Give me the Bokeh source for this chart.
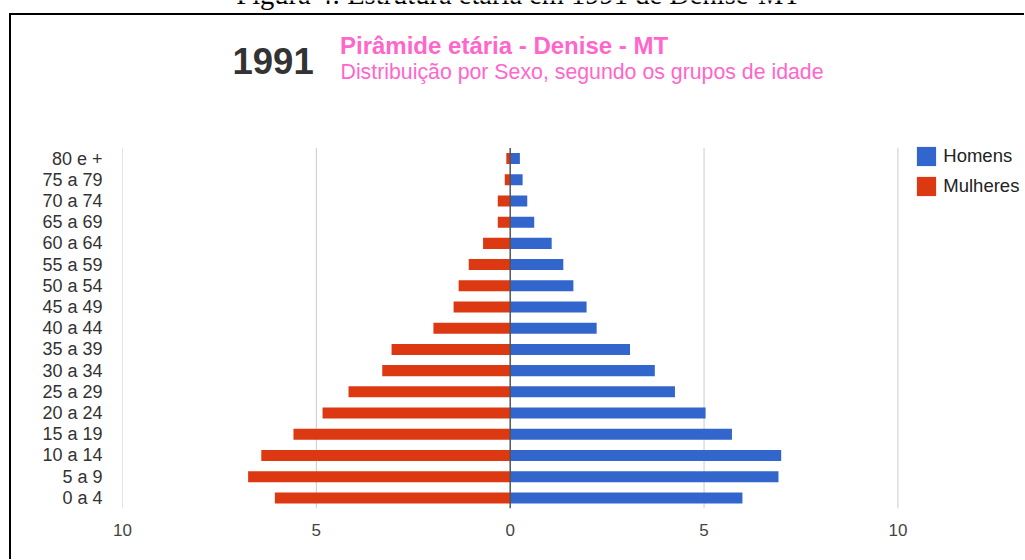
from bokeh.plotting import figure
from bokeh.models import Range1d, FixedTicker, Label, Legend, LegendItem
from bokeh.embed import file_html
from bokeh.resources import INLINE

# ---- data (% of population) ----
age_groups = ["0 a 4", "5 a 9", "10 a 14", "15 a 19", "20 a 24", "25 a 29",
              "30 a 34", "35 a 39", "40 a 44", "45 a 49", "50 a 54", "55 a 59",
              "60 a 64", "65 a 69", "70 a 74", "75 a 79", "80 e +"]
homens = [5.99, 6.92, 6.99, 5.72, 5.04, 4.25, 3.73, 3.09, 2.23, 1.97, 1.63,
          1.37, 1.07, 0.62, 0.44, 0.32, 0.25]
mulheres = [6.07, 6.76, 6.42, 5.59, 4.84, 4.17, 3.30, 3.06, 1.98, 1.46, 1.33,
            1.07, 0.70, 0.32, 0.32, 0.14, 0.10]
x_ticks = [-10, -5, 0, 5, 10]
x_tick_labels = ["10", "5", "0", "5", "10"]
series_names = ["Homens", "Mulheres"]
ano = "1991"
titulo = "Pirâmide etária - Denise - MT"
subtitulo = "Distribuição por Sexo, segundo os grupos de idade"
legenda_figura = "Figura 4: Estrutura etária em 1991 de Denise-MT"

FONT = "Liberation Sans"
SERIF = "Liberation Serif"
BLUE = "#3366CC"
RED = "#DC3912"
PINK = "#FF66CC"

# canvas geometry (canvas = page)
W, H = 1024, 559
FL = 122            # frame left (x = -10)
FB = 508            # frame bottom (bottom of the bar area)
PX_X = 38.77        # px per % on x
PX_Y = 21.21        # px per age band

y_idx = list(range(len(age_groups)))
n = len(age_groups)
x0 = x_ticks[0]
x_end = x0 + (W - FL) / PX_X
y_end = -0.5 + FB / PX_Y

p = figure(width=W, height=H, title=None,
           x_range=Range1d(x0, x_end), y_range=Range1d(-0.5, y_end),
           output_backend="svg", toolbar_location=None,
           min_border_left=FL, min_border_right=0,
           min_border_top=0, min_border_bottom=H - FB)
p.outline_line_color = None
p.background_fill_alpha = 0
p.border_fill_alpha = 0
# document frame lines (top and left), drawn behind the transparent canvas
p.styles = {
    "background-color": "white",
    "background-image": "linear-gradient(#000000, #000000), linear-gradient(#000000, #000000)",
    "background-size": "calc(100% - 9px) 2px, 2px 100%",
    "background-position": "9px 13px, 9px 13px",
    "background-repeat": "no-repeat",
}

# vertical grid lines, limited to the band area
grid_x = [t for t in x_ticks if t != 0]
p.segment(x0=grid_x, y0=-0.5, x1=grid_x, y1=n - 0.5,
          line_color="#cccccc", line_width=1)

r_m = p.hbar(y=y_idx, left=[-v for v in mulheres], right=0, height=0.52,
             fill_color=RED, line_color=None)
r_h = p.hbar(y=y_idx, left=0, right=homens, height=0.52,
             fill_color=BLUE, line_color=None)

# baseline at zero
p.segment(x0=[0], y0=-0.5, x1=[0], y1=n - 0.5,
          line_color="#555555", line_width=1.5)

# axes
p.xaxis.ticker = FixedTicker(ticks=x_ticks)
p.xaxis.major_label_overrides = dict(zip(x_ticks, x_tick_labels))
p.yaxis.ticker = FixedTicker(ticks=y_idx)
p.yaxis.major_label_overrides = dict(zip(y_idx, age_groups))
for ax in (p.xaxis[0], p.yaxis[0]):
    ax.axis_line_color = None
    ax.major_tick_line_color = None
    ax.minor_tick_line_color = None
    ax.major_tick_out = 0
    ax.major_tick_in = 0
    ax.major_label_text_font = FONT
p.xaxis.major_label_text_color = "#444444"
p.yaxis.major_label_text_color = "#333333"
p.xaxis.major_label_text_font_size = "17px"
p.xaxis.major_label_standoff = 15
p.yaxis.major_label_text_font_size = "18px"
p.yaxis.major_label_standoff = 20

p.xgrid.visible = False
p.ygrid.visible = False

# legend (location = bottom-left corner, relative to the frame)
legend = Legend(items=[LegendItem(label=series_names[0], renderers=[r_h]),
                       LegendItem(label=series_names[1], renderers=[r_m])],
                location=(914.3 - FL, FB - (144.3 + 54)),
                glyph_width=24, glyph_height=24, label_standoff=5,
                spacing=6, padding=0, margin=0,
                border_line_color=None, background_fill_alpha=0,
                label_text_font=FONT, label_text_font_size="18.5px",
                label_text_color="#222222", label_height=24)
p.add_layout(legend)

# titles (screen units are relative to the frame, y up)
def sx(x):
    return x - FL

def sy(y):
    return FB - y

p.add_layout(Label(x=sx(518), y=sy(-6), x_units="screen", y_units="screen",
                   text=legenda_figura, text_font=SERIF,
                   text_font_size="28.5px", text_color="#000000",
                   text_align="center", text_baseline="middle"))
p.add_layout(Label(x=sx(232), y=sy(60), x_units="screen", y_units="screen",
                   text=ano, text_font=FONT, text_font_style="bold",
                   text_font_size="36.5px", text_color="#333333",
                   text_baseline="middle"))
p.add_layout(Label(x=sx(339.5), y=sy(45), x_units="screen", y_units="screen",
                   text=titulo, text_font=FONT, text_font_style="bold",
                   text_font_size="24px", text_color=PINK,
                   text_baseline="middle"))
p.add_layout(Label(x=sx(340), y=sy(71.5), x_units="screen", y_units="screen",
                   text=subtitulo, text_font=FONT,
                   text_font_size="21.3px", text_color=PINK,
                   text_baseline="middle"))

open("out.html", "w").write(file_html(p, INLINE))
